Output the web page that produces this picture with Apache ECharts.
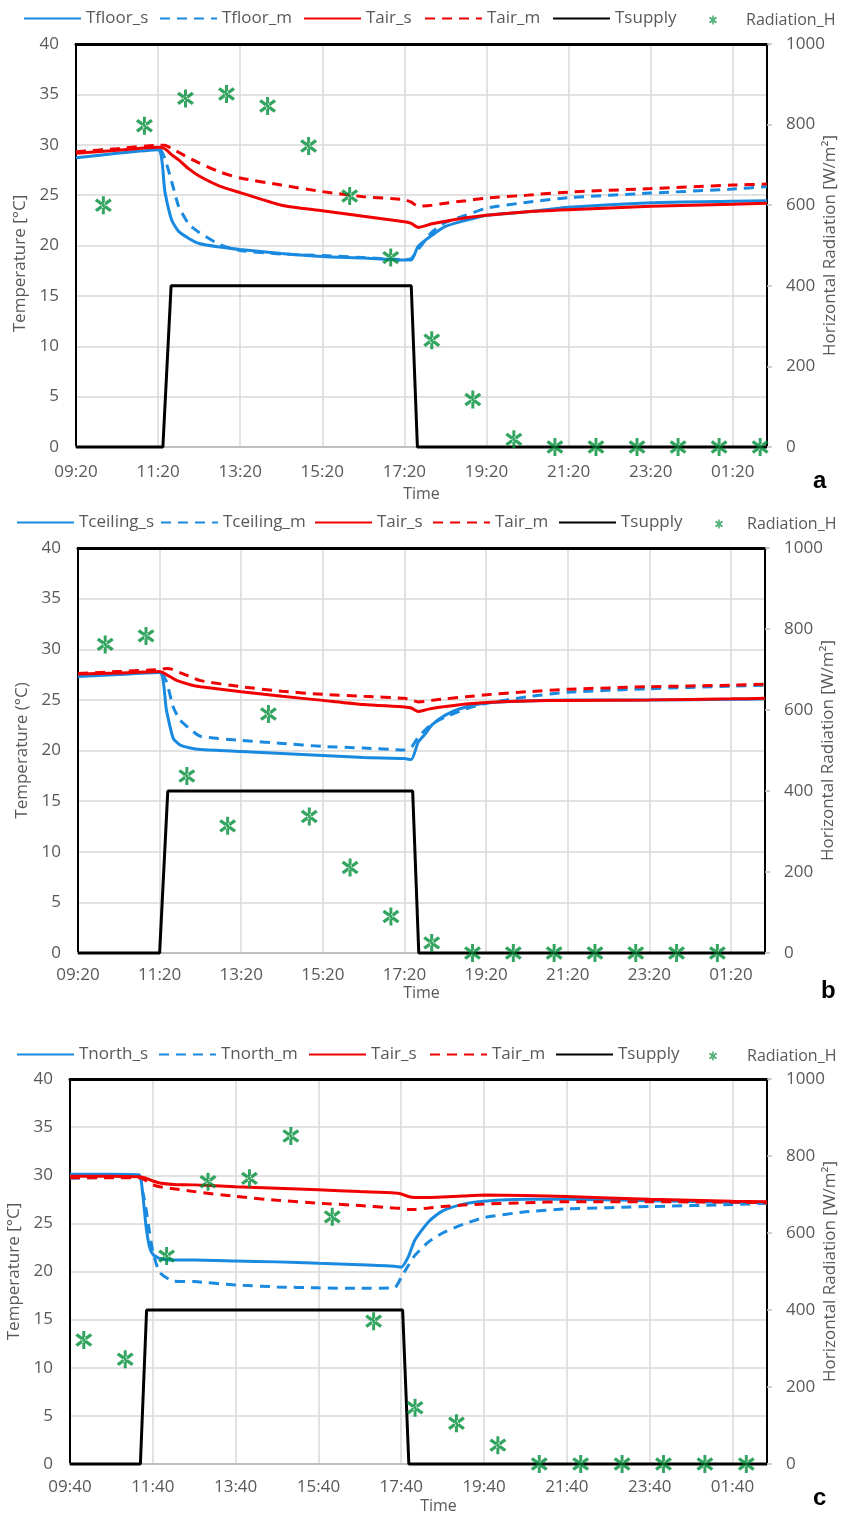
<!DOCTYPE html>
<html>
<head>
<meta charset="utf-8">
<title>Simulated vs measured temperatures</title>
<script src="https://cdn.jsdelivr.net/npm/echarts@6/dist/echarts.min.js"></script>
<style>
    html, body { margin: 0; padding: 0; background: #fff; }
    #main { width: 841px; height: 1517px; }
</style>
</head>
<body>
<div id="main"></div>
<script>
// ---------- panel a : floor ----------
var timesA = ['09:20','10:20','11:20','11:30','11:40','11:50','12:05','12:20','12:50','13:20','14:20','15:20','16:20',
              '17:20','17:30','17:40','18:00','18:20','18:50','19:20','20:20','21:20','23:20','01:20','02:10'];
var floorSimA  = [28.7, 29.15, 29.5, 25.3, 22.5, 21.4, 20.7, 20.2, 19.85, 19.6, 19.2, 18.9, 18.75,
                  18.55, 18.55, 19.9, 21.0, 21.9, 22.5, 23.0, 23.35, 23.8, 24.25, 24.4, 24.45];
var floorMeasA = [29.3, 29.55, 29.75, 28.6, 26.3, 23.9, 22.1, 21.3, 20.1, 19.5, 19.15, 19.0, 18.8,
                  18.6, 18.7, 19.6, 21.3, 22.3, 23.0, 23.7, 24.3, 24.75, 25.2, 25.6, 25.85];
var airSimA    = [29.15, 29.45, 29.75, 29.6, 29.0, 28.5, 27.6, 26.9, 25.9, 25.25, 24.0, 23.45, 22.9,
                  22.35, 22.2, 21.8, 22.15, 22.4, 22.75, 23.0, 23.35, 23.55, 23.9, 24.1, 24.2];
var airMeasA   = [29.3, 29.6, 29.95, 29.95, 29.6, 29.25, 28.7, 28.2, 27.3, 26.7, 26.0, 25.35, 24.85,
                  24.55, 24.3, 23.9, 24.0, 24.2, 24.45, 24.7, 25.0, 25.3, 25.65, 26.0, 26.1];
var supplyTimesA = ['09:20','11:27','11:39','17:30','17:39','02:10'];
var supplyA      = [0, 0, 16, 16, 0, 0];
var radTimesA = ['10:00','11:00','12:00','13:00','14:00','15:00','16:00','17:00','18:00',
                 '19:00','20:00','21:00','22:00','23:00','00:00','01:00','02:00'];
var radA      = [600, 797, 865, 876, 846, 747, 623, 470, 265, 118, 19, 0, 0, 0, 0, 0, 0];

// ---------- panel b : ceiling ----------
var timesB = ['09:20','10:20','11:20','11:30','11:40','11:50','12:05','12:20','13:20','14:20','15:20','16:20','17:20',
              '17:30','17:40','17:50','18:00','18:20','18:50','19:20','20:20','21:20','23:20','01:20','02:10'];
var ceilSimB  = [27.3, 27.5, 27.7, 24.0, 21.2, 20.55, 20.25, 20.1, 19.9, 19.7, 19.5, 19.3, 19.2,
                 19.1, 20.8, 21.6, 22.5, 23.5, 24.3, 24.7, 24.9, 25.0, 25.0, 25.05, 25.1];
var ceilMeasB = [27.4, 27.6, 27.8, 26.8, 24.3, 23.0, 22.1, 21.4, 21.0, 20.7, 20.4, 20.25, 20.05,
                 20.3, 21.3, 22.0, 22.6, 23.3, 24.1, 24.65, 25.3, 25.75, 26.1, 26.35, 26.45];
var airSimB   = [27.55, 27.65, 27.8, 27.5, 27.1, 26.8, 26.5, 26.3, 25.8, 25.35, 24.95, 24.55, 24.3,
                 24.2, 23.85, 24.0, 24.15, 24.35, 24.6, 24.75, 24.9, 24.95, 25.0, 25.1, 25.15];
var airMeasB  = [27.6, 27.8, 28.0, 28.1, 28.0, 27.7, 27.3, 26.9, 26.3, 25.85, 25.55, 25.35, 25.15,
                 25.0, 24.8, 24.85, 24.95, 25.1, 25.3, 25.5, 25.8, 26.05, 26.3, 26.45, 26.55];
var supplyTimesB = ['09:20','11:20','11:32','17:32','17:41','02:10'];
var supplyB      = [0, 0, 16, 16, 0, 0];
var radTimesB = ['10:00','11:00','12:00','13:00','14:00','15:00','16:00','17:00','18:00',
                 '19:00','20:00','21:00','22:00','23:00','00:00','01:00'];
var radB      = [762, 783, 437, 314, 590, 337, 211, 90, 25, 0, 0, 0, 0, 0, 0, 0];

// ---------- panel c : north wall ----------
var timesC = ['09:40','10:40','11:20','11:25','11:30','11:35','11:40','11:50','12:10','12:40','13:40','14:40','15:40','16:40',
              '17:30','17:40','17:50','18:00','18:20','18:40','19:10','19:40','20:40','21:40','23:40','01:40','02:30'];
var northSimC  = [30.1, 30.1, 30.05, 28.3, 24.8, 22.6, 21.8, 21.35, 21.2, 21.2, 21.1, 21.0, 20.85, 20.7,
                  20.55, 20.45, 21.5, 23.3, 25.2, 26.3, 27.0, 27.3, 27.5, 27.5, 27.35, 27.2, 27.15];
var northMeasC = [29.7, 29.8, 30.0, 28.4, 26.6, 24.2, 22.1, 19.9, 19.0, 18.95, 18.6, 18.4, 18.3, 18.25,
                  18.3, 19.4, 20.6, 21.7, 23.1, 24.0, 24.9, 25.6, 26.2, 26.5, 26.75, 26.95, 27.1];
var airSimC    = [29.9, 29.9, 29.85, 29.8, 29.7, 29.55, 29.4, 29.2, 29.05, 29.0, 28.8, 28.65, 28.5, 28.3,
                  28.15, 28.05, 27.8, 27.7, 27.7, 27.75, 27.85, 27.95, 27.9, 27.8, 27.5, 27.3, 27.25];
var airMeasC   = [29.75, 29.75, 29.75, 29.65, 29.45, 29.2, 29.0, 28.8, 28.6, 28.3, 27.8, 27.4, 27.1, 26.85,
                  26.6, 26.55, 26.45, 26.45, 26.6, 26.75, 26.9, 27.0, 27.15, 27.25, 27.25, 27.2, 27.15];
var supplyTimesC = ['09:40','11:22','11:31','17:42','17:51','02:30'];
var supplyC      = [0, 0, 16, 16, 0, 0];
var radTimesC = ['10:00','11:00','12:00','13:00','14:00','15:00','16:00','17:00','18:00',
                 '19:00','20:00','21:00','22:00','23:00','00:00','01:00','02:00'];
var radC      = [322, 272, 540, 733, 742, 852, 642, 371, 146, 106, 49, 0, 0, 0, 0, 0, 0];

// ---------- helpers ----------
var BLUE = '#1a8ae0', RED = '#f00000', GREEN = '#008f3a', GREY = '#595959';
var FONT = "'Open Sans', 'Noto Sans', sans-serif";
// asterisk marker (X with a vertical bar)
var STAR = 'path://M6.6,0L9.4,0L9.4,18L6.6,18Z M0,4.8L2,2.3L16,13.2L14,15.7Z M16,4.8L14,2.3L0,13.2L2,15.7Z';
var SPAN = 1010; // minutes shown on each time axis

function toMin(s) {
    var p = s.split(':');
    return (+p[0]) * 60 + (+p[1]);
}
function elapsed(start, t) {
    return (toMin(t) - toMin(start) + 1440) % 1440;
}
function pairs(start, times, vals) {
    return times.map(function (t, i) { return [elapsed(start, t), vals[i]]; });
}
function clock(start, v) {
    var m = (toMin(start) + v) % 1440;
    var h = Math.floor(m / 60), mm = m % 60;
    return (h < 10 ? '0' : '') + h + ':' + (mm < 10 ? '0' : '') + mm;
}

var panels = [
    {
        letter: 'a', start: '09:20', grid: { left: 76, top: 44, width: 691, height: 403 },
        surface: 'Tfloor', yName: 'Temperature [°C]', yNamePad: [0, 36, 0, 0], yNameGap: 43,
        times: timesA, surfSim: floorSimA, surfMeas: floorMeasA, airSim: airSimA, airMeas: airMeasA,
        supplyTimes: supplyTimesA, supply: supplyA, radTimes: radTimesA, rad: radA,
        labelMargin: 17, timeGap: 39, timePad: [0, 0, 0, 0],
        legendTop: 10, legendX: [23, 159, 303, 424, 552], radIcon: 713, radText: 746,
        letterPos: [813, 469]
    },
    {
        letter: 'b', start: '09:20', grid: { left: 78, top: 548, width: 687, height: 405 },
        surface: 'Tceiling', yName: 'Temperature (°C)', yNamePad: [0, 0, 0, 0], yNameGap: 43,
        times: timesB, surfSim: ceilSimB, surfMeas: ceilMeasB, airSim: airSimB, airMeas: airMeasB,
        supplyTimes: supplyTimesB, supply: supplyB, radTimes: radTimesB, rad: radB,
        labelMargin: 14, timeGap: 32, timePad: [0, 0, 0, 0],
        legendTop: 514, legendX: [16, 160, 314, 432, 558], radIcon: 719, radText: 747,
        letterPos: [821, 979]
    },
    {
        letter: 'c', start: '09:40', grid: { left: 70, top: 1079, width: 697, height: 385 },
        surface: 'Tnorth', yName: 'Temperature [°C]', yNamePad: [0, 0, 0, 0], yNameGap: 41,
        times: timesC, surfSim: northSimC, surfMeas: northMeasC, airSim: airSimC, airMeas: airMeasC,
        supplyTimes: supplyTimesC, supply: supplyC, radTimes: radTimesC, rad: radC,
        labelMargin: 15, timeGap: 34, timePad: [0, 0, 0, 40],
        legendTop: 1046, legendX: [16, 158, 308, 429, 555], radIcon: 713, radText: 747,
        letterPos: [813, 1486]
    }
];

var option = {
    backgroundColor: '#fff',
    animation: false,
    title: [], grid: [], xAxis: [], yAxis: [], legend: [], series: []
};

var textStyle = { color: GREY, fontSize: 17, fontFamily: FONT };

panels.forEach(function (p, i) {
    var start = p.start;

    option.grid.push({
        left: p.grid.left, top: p.grid.top, width: p.grid.width, height: p.grid.height,
        containLabel: false, outerBoundsMode: 'none'
    });

    // bottom time axis
    option.xAxis.push({
        gridIndex: i, type: 'value', position: 'bottom', min: 0, max: SPAN, interval: 120,
        axisLine: { show: true, onZero: false, lineStyle: { color: '#bfbfbf', width: 2 } },
        axisTick: { show: false },
        axisLabel: {
            color: GREY, fontSize: 17, fontFamily: FONT, margin: p.labelMargin,
            showMaxLabel: false, showMinLabel: true,
            formatter: function (v) { return clock(start, v); }
        },
        splitLine: { show: true, lineStyle: { color: '#d9d9d9', width: 1.5 } },
        name: 'Time', nameLocation: 'middle', nameGap: p.timeGap,
        nameTextStyle: { color: GREY, fontSize: 16, fontFamily: FONT, padding: p.timePad }
    });
    // top border of the plot area
    option.xAxis.push({
        gridIndex: i, type: 'value', position: 'top', min: 0, max: SPAN,
        axisLine: { show: true, onZero: false, lineStyle: { color: '#000', width: 3 } },
        axisTick: { show: false }, axisLabel: { show: false }, splitLine: { show: false }
    });

    // temperature (left)
    option.yAxis.push({
        gridIndex: i, type: 'value', position: 'left', min: 0, max: 40, interval: 5,
        axisLine: { show: true, onZero: false, lineStyle: { color: '#000', width: 2 } },
        axisTick: { show: false },
        axisLabel: { color: GREY, fontSize: 17, fontFamily: FONT, margin: 17 },
        splitLine: { show: true, lineStyle: { color: '#d9d9d9', width: 1.5 } },
        name: p.yName, nameLocation: 'middle', nameGap: p.yNameGap,
        nameTextStyle: { color: GREY, fontSize: 17, fontFamily: FONT, padding: p.yNamePad }
    });
    // radiation (right)
    option.yAxis.push({
        gridIndex: i, type: 'value', position: 'right', min: 0, max: 1000, interval: 200,
        axisLine: { show: true, onZero: false, lineStyle: { color: '#000', width: 2 } },
        axisTick: { show: true, length: 5, lineStyle: { color: '#bfbfbf', width: 1.5 } },
        axisLabel: {
            color: GREY, fontSize: 17, fontFamily: FONT, margin: 19,
            formatter: function (v) { return String(v); }
        },
        splitLine: { show: false },
        name: 'Horizontal Radiation [W/m²]', nameLocation: 'middle', nameGap: 63, nameRotate: 90,
        nameMoveOverlap: false,
        nameTextStyle: { color: GREY, fontSize: 17, fontFamily: FONT, verticalAlign: 'middle' }
    });

    var xi = 2 * i, yi = 2 * i;
    var lines = [
        { name: p.surface + '_s', color: BLUE, type: 'solid', data: p.surfSim },
        { name: p.surface + '_m', color: BLUE, type: [10, 7], data: p.surfMeas },
        { name: 'Tair_s', color: RED, type: 'solid', data: p.airSim },
        { name: 'Tair_m', color: RED, type: [10, 7], data: p.airMeas }
    ];
    lines.forEach(function (l) {
        option.series.push({
            name: l.name, type: 'line', xAxisIndex: xi, yAxisIndex: yi,
            data: pairs(start, p.times, l.data),
            smooth: 0.2, symbol: 'none', clip: false,
            lineStyle: { color: l.color, width: 3, type: l.type },
            itemStyle: { color: l.color }
        });
    });
    option.series.push({
        name: 'Tsupply', type: 'line', xAxisIndex: xi, yAxisIndex: yi,
        data: pairs(start, p.supplyTimes, p.supply),
        symbol: 'none', clip: false,
        lineStyle: { color: '#000', width: 3 }, itemStyle: { color: '#000' }
    });
    option.series.push({
        name: 'Radiation_H', type: 'scatter', xAxisIndex: xi, yAxisIndex: yi + 1,
        data: pairs(start, p.radTimes, p.rad),
        symbol: STAR, symbolSize: [17, 18], clip: false,
        itemStyle: { color: GREEN }, z: 5
    });

    // legend, one block per entry so each sits where it does in the figure
    var names = [p.surface + '_s', p.surface + '_m', 'Tair_s', 'Tair_m', 'Tsupply'];
    names.forEach(function (n, k) {
        option.legend.push({
            left: p.legendX[k], top: p.legendTop, padding: 0, itemGap: 0,
            itemWidth: 57, itemHeight: 14, selectedMode: false,
            itemStyle: { opacity: 0 },
            data: [n], textStyle: textStyle
        });
    });
    option.legend.push({
        left: p.radIcon - 4, top: p.legendTop + 2, padding: 0, itemGap: 0,
        itemWidth: 8, itemHeight: 9, selectedMode: false,
        data: [{ name: 'Radiation_H', icon: STAR }],
        textStyle: {
            color: GREY, fontSize: 16, fontFamily: FONT,
            padding: [0, 0, 0, p.radText - (p.radIcon + 4 + 5)]
        }
    });

    option.title.push({
        text: p.letter, left: p.letterPos[0], top: p.letterPos[1], padding: 0,
        textStyle: { color: '#000', fontSize: 24, fontWeight: 'bold', fontFamily: "'Liberation Sans', Arial, sans-serif" }
    });
});

var myChart = echarts.init(document.getElementById('main'), null, { renderer: 'canvas' });
myChart.setOption(option);
</script>
</body>
</html>
